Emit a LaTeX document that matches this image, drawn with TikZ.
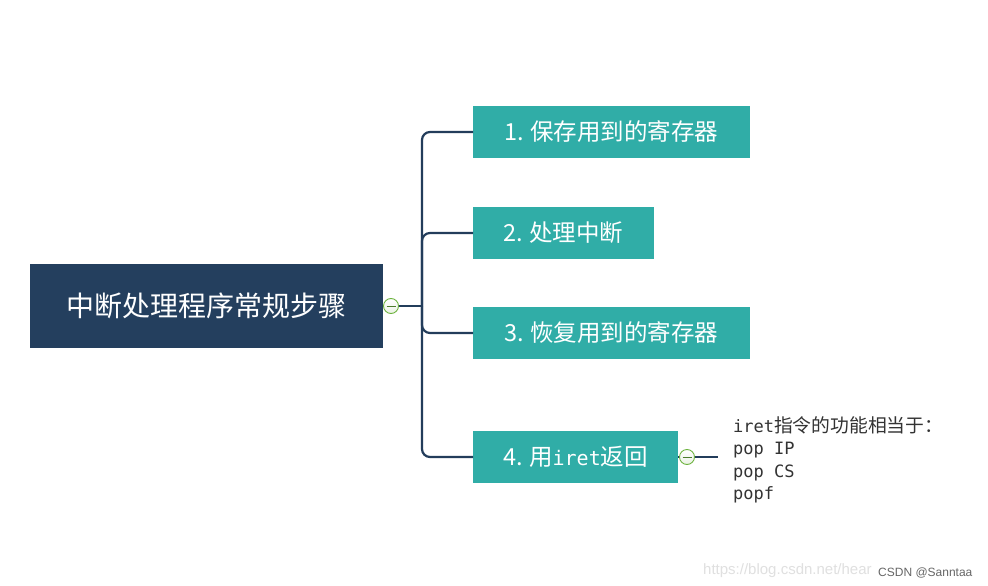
\documentclass[tikz,border=0pt]{standalone}
\usepackage{fontspec}
\setmainfont{Noto Sans CJK SC}
\newfontfamily\cjkfont{Noto Sans CJK SC}
\newfontfamily\monofont{DejaVu Sans Mono}
\newfontfamily\wmfont{Liberation Sans}
\definecolor{navy}{HTML}{243F5E}
\definecolor{teal}{HTML}{30ADA7}
\definecolor{linec}{HTML}{233D5B}
\definecolor{colfill}{HTML}{EAF2E4}
\definecolor{colborder}{HTML}{6DB33F}
\definecolor{notec}{HTML}{333333}
\newcommand{\bm}[1]{{\monofont\fontsize{20}{26}\selectfont #1}}
\newcommand{\nm}[1]{{\monofont\fontsize{17}{22.5}\selectfont #1}}
\begin{document}
\begin{tikzpicture}[x=1pt,y=-1pt,
  rootbox/.style={fill=navy, text=white, inner sep=0pt, minimum width=353pt, minimum height=84pt, font=\cjkfont\fontsize{28}{32}\selectfont},
  childbox/.style={fill=teal, text=white, inner sep=0pt, minimum height=52pt, anchor=west, font=\cjkfont\fontsize{23.5}{26}\selectfont},
  conn/.style={draw=linec, line width=2.2pt, rounded corners=8pt},
  collapse/.style={circle, draw=colborder, line width=0.9pt, inner sep=0pt, minimum size=15pt,
    top color=white, bottom color=colfill,
    path picture={\draw[colborder!70!black, line width=1pt] ([xshift=-4.5pt]path picture bounding box.center) -- ([xshift=4.5pt]path picture bounding box.center);}},
  note/.style={text=notec, inner sep=0pt, anchor=north west, align=left, font=\cjkfont\fontsize{18.8}{22.5}\selectfont}
]
\useasboundingbox (0,0) rectangle (988,586);
\fill[white] (0,0) rectangle (988,586);

\node[rootbox] (root) at (206.5,306) {中断处理程序常规步骤};
\coordinate (jn) at (422,306);

\node[childbox, minimum width=277pt] (c1) at (473,132) {1.\hspace{6pt}保存用到的寄存器};
\node[childbox, minimum width=181pt] (c2) at (473,233) {2.\hspace{6pt}处理中断};
\node[childbox, minimum width=277pt] (c3) at (473,333) {3.\hspace{6pt}恢复用到的寄存器};
\node[childbox, minimum width=205pt] (c4) at (473,457) {4.\hspace{6pt}用\bm{iret}返回};

\draw[conn] (root.east) -- (jn);
\draw[conn] (jn) |- (c1.west);
\draw[conn] (jn) |- (c2.west);
\draw[conn] (jn) |- (c3.west);
\draw[conn] (jn) |- (c4.west);

\node[collapse] (col1) at (391,306) {};

\coordinate (noteend) at (718,457);
\draw[conn] (c4.east) -- (noteend);
\node[collapse] (col2) at (687,457) {};

\node[note] (nt) at (733,416) {\nm{iret}指令的功能相当于：\\ \nm{pop IP}\\ \nm{pop CS}\\ \nm{popf}};

\node[anchor=base west, inner sep=0pt, text=black!12, font=\wmfont\fontsize{15}{18}\selectfont] (wm1) at (703,574) {https://blog.csdn.net/hear};
\node[anchor=base west, inner sep=0pt, text=black!60, font=\wmfont\fontsize{12}{14}\selectfont] (wm2) at (878,576) {CSDN @Sanntaa};
\end{tikzpicture}
\end{document}
